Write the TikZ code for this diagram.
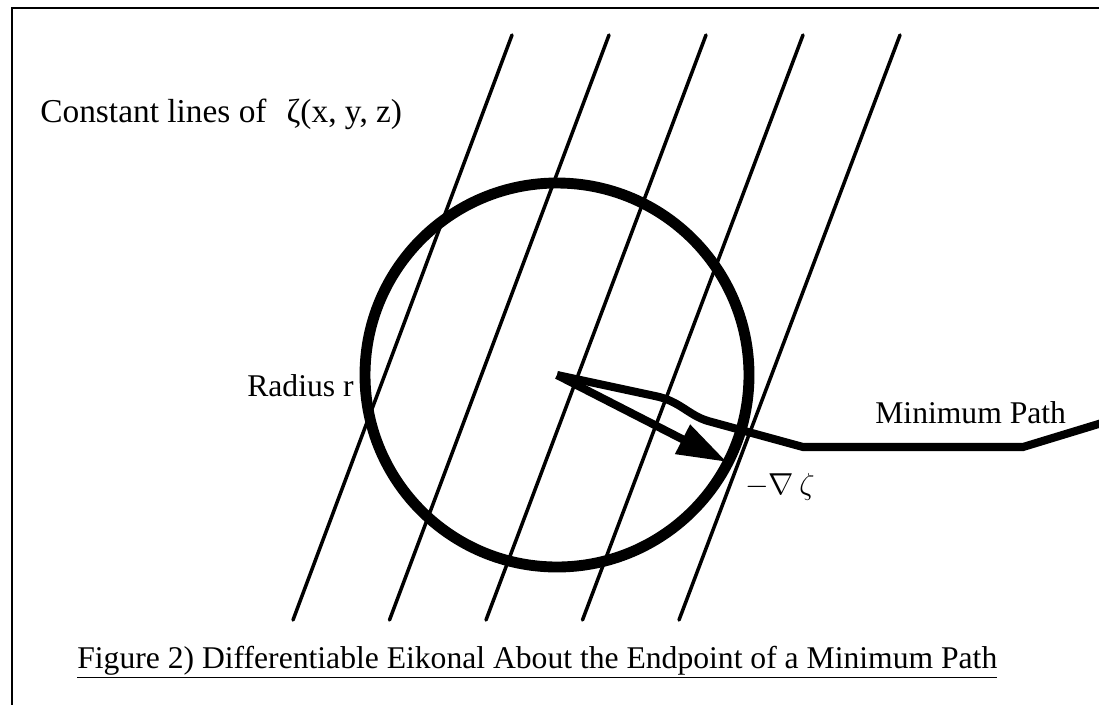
\documentclass[tikz,border=0pt]{standalone}
\usepackage{fontspec}
\setmainfont{Liberation Serif}
\usetikzlibrary{arrows.meta}

\begin{document}
\begin{tikzpicture}[x=0.02cm,y=-0.02cm,
  every node/.style={inner sep=0pt,font=\fontsize{18}{20}\selectfont},
  eikline/.style={line width=2pt,line cap=round},
  thickpath/.style={line width=4.6pt}]
\useasboundingbox (0,0) rectangle (1099,704);
\draw[line width=1.6pt] (12,8) rectangle (1130,740);

% constant lines of zeta
\foreach \i in {0,...,4}{
  \coordinate (t\i) at (512+97*\i,35);
  \coordinate (b\i) at (293+96.5*\i,620);
  \draw[eikline] (t\i) -- (b\i);
}

\coordinate (O) at (557,375);
\draw[line width=6.2pt] (O) circle (192);

\coordinate (p1) at (655,396);
\coordinate (p2) at (708,421);
\coordinate (p3) at (803,447);
\coordinate (p4) at (1023,447);
\coordinate (p5) at (1115,419);
\draw[thickpath] (O) -- (p1) .. controls (680,401) and (688,415) .. (p2) -- (p3) -- (p4) -- (p5);

\coordinate (tip) at (727,462);
\draw[thickpath,-{Triangle[length=1cm,width=0.62cm]}] (O) -- (tip);

\node[anchor=base west,font=\fontsize{19}{21}\selectfont] (lbl) at (40,122) {Constant lines of\hspace{0.6em}ζ(x, y, z)};
\node[anchor=base west] (rad) at (247,396) {Radius r};
\node[anchor=base west] (mp) at (875,423) {Minimum Path};
\node[anchor=base west] (grad) at (745,494) {$-\nabla\,\zeta$};
\node[anchor=base west] (cap) at (77,668) {\underline{Figure 2) Differentiable Eikonal About the Endpoint of a Minimum Path}};
\end{tikzpicture}
\end{document}
